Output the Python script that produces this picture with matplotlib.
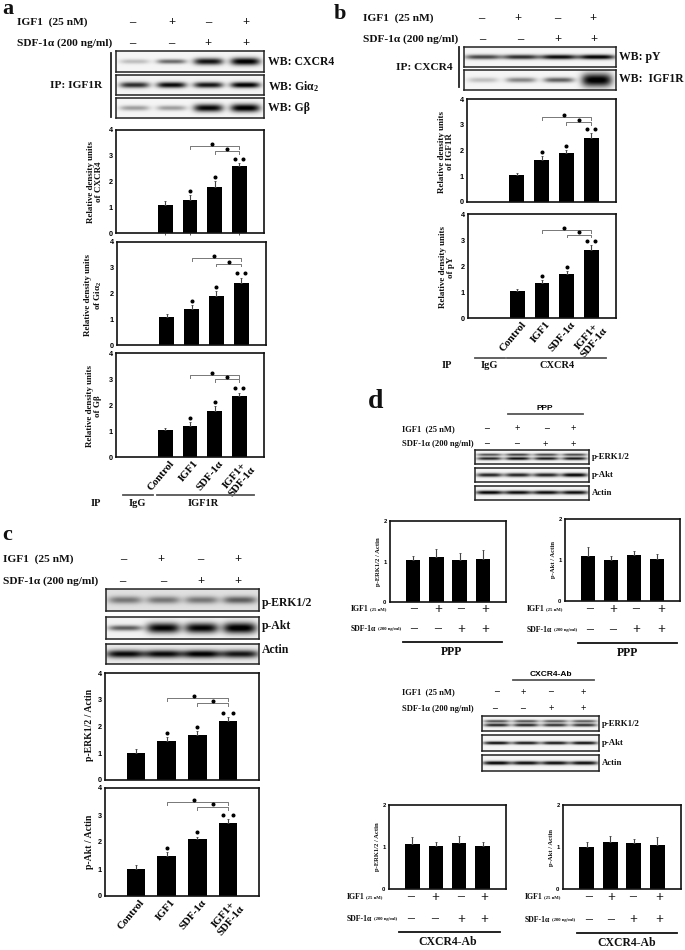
import matplotlib

matplotlib.use("Agg")
import matplotlib.pyplot as plt
from matplotlib.transforms import ScaledTranslation
import numpy as np

W, H = 685, 950
SERIF = "Liberation Serif"
SANS = "Liberation Sans"

plt.rcParams["font.family"] = [SERIF, "DejaVu Sans"]
plt.rcParams["font.weight"] = "bold"
plt.rcParams["mathtext.fontset"] = "custom"
plt.rcParams["mathtext.rm"] = "Liberation Serif:bold"
plt.rcParams["mathtext.default"] = "rm"

# bar values
a_cxcr4 = [1.1, 1.3, 1.8, 2.6]
a_cxcr4_err = [0.13, 0.17, 0.23, 0.13]
a_gia = [1.1, 1.4, 1.9, 2.4]
a_gia_err = [0.1, 0.15, 0.2, 0.22]
a_gb = [1.03, 1.2, 1.77, 2.35]
a_gb_err = [0.1, 0.15, 0.2, 0.13]
b_igf1r = [1.03, 1.65, 1.9, 2.48]
b_igf1r_err = [0.1, 0.12, 0.12, 0.2]
b_py = [1.03, 1.35, 1.7, 2.6]
b_py_err = [0.08, 0.12, 0.1, 0.2]
c_erk = [1.0, 1.45, 1.67, 2.2]
c_erk_err = [0.15, 0.15, 0.15, 0.15]
c_akt = [1.0, 1.5, 2.1, 2.7]
c_akt_err = [0.13, 0.12, 0.1, 0.15]
ppp_erk = [1.03, 1.11, 1.03, 1.07]
ppp_erk_err = [0.11, 0.2, 0.17, 0.21]
ppp_akt = [1.1, 1.0, 1.13, 1.03]
ppp_akt_err = [0.22, 0.1, 0.1, 0.11]
ab_erk = [1.06, 1.03, 1.1, 1.02]
ab_erk_err = [0.18, 0.1, 0.16, 0.11]
ab_akt = [1.01, 1.12, 1.09, 1.05]
ab_akt_err = [0.1, 0.15, 0.09, 0.2]

igf1_signs = ["–", "+", "–", "+"]
sdf_signs = ["–", "–", "+", "+"]
treatments = ["Control", "IGF1", "SDF-1α", "IGF1+\nSDF-1α"]

# blot band strengths per lane (0 = nothing, 1 = black)
bl_a_cxcr4 = [0.22, 0.55, 0.9, 1.0]
bl_a_gia = [0.8, 0.95, 0.9, 1.0]
bl_a_gb = [0.35, 0.35, 0.95, 1.0]
bl_b_py = [0.7, 0.8, 0.95, 1.0]
bl_b_igf1r = [0.22, 0.45, 0.6, 1.0]
bl_c_erk = [0.42, 0.42, 0.42, 0.52]
bl_c_akt = [0.6, 0.95, 0.95, 1.0]
bl_c_actin = [0.9, 0.9, 0.95, 0.85]
bl_p_erk = [0.85, 0.95, 0.9, 0.9]
bl_p_akt = [0.85, 0.85, 0.85, 1.0]
bl_p_actin = [1.0, 0.95, 0.95, 0.95]
bl_x_erk = [0.85, 0.85, 0.8, 0.8]
bl_x_akt = [0.95, 0.9, 0.9, 0.95]
bl_x_actin = [1.0, 0.95, 0.95, 0.95]

fig = plt.figure(figsize=(W / 100, H / 100), dpi=100, facecolor="white")


def px_axes(left, top, right, bottom):
    return fig.add_axes([left / W, 1 - bottom / H, (right - left) / W, (bottom - top) / H])


def txt(x, y, s, size=8, ha="left", va="center", **kw):
    fig.text(x / W, 1 - y / H, s, fontsize=size, ha=ha, va=va, fontweight="bold", color="#111111", **kw)


def line(x0, x1, y, color="#222222", lw=1.3):
    fig.add_artist(plt.Line2D([x0 / W, x1 / W], [1 - y / H, 1 - y / H], color=color, lw=lw))


def vline(x, y0, y1, color="#222222", lw=1.3):
    fig.add_artist(plt.Line2D([x / W, x / W], [1 - y0 / H, 1 - y1 / H], color=color, lw=lw))


def blot(left, top, right, bottom, bands, thick=2.5, bg=0.04, double=False, halfw=0.1, grow=0.0):
    nx, ny = int(right - left) * 2, int(bottom - top) * 2
    xx, yy = np.meshgrid(np.linspace(0, 1, nx), np.linspace(0, bottom - top, ny))
    cy = (bottom - top) / 2
    img = np.full(xx.shape, bg)
    for i, s in enumerate(bands):
        cx = 0.125 + 0.25 * i
        t = thick * (1 + grow * max(s - 0.6, 0) / 0.4)
        prof = np.exp(-(((xx - cx) / halfw) ** 4))
        if double:
            vert = np.exp(-(((yy - cy + 2.4) / (thick * 0.6)) ** 2)) * 0.8 + np.exp(-(((yy - cy - 1.6) / (thick * 0.75)) ** 2))
        else:
            vert = np.exp(-(((yy - cy) / t) ** 2))
        img += s * prof * vert
    ax = px_axes(left, top, right, bottom)
    ax.imshow(1 - np.clip(img, 0, 1), cmap="gray", vmin=0, vmax=1, aspect="auto", interpolation="bilinear")
    ax.set_xticks([])
    ax.set_yticks([])
    for sp in ax.spines.values():
        sp.set_linewidth(1.1)
        sp.set_color("#222222")
    return ax


def bars(box, vals, errs, xlim, start, ymax=4, ticks=None, bar_w=0.6, labels=None, tsize=5.2, lab_size=7.8, bracket=None, stubs=False):
    ax = px_axes(*box)
    pos = np.arange(len(vals)) + start
    ax.bar(pos, vals, width=bar_w, color="black")
    ax.errorbar(pos, vals, yerr=[np.zeros(len(errs)), errs], fmt="none", ecolor="#444444", elinewidth=0.8, capsize=1, capthick=0.6)
    ax.set_xlim(0, xlim)
    ax.set_ylim(0, ymax)
    ax.set_yticks(ticks if ticks is not None else range(ymax + 1))
    ax.tick_params(axis="y", length=0, pad=2.5, labelsize=tsize)
    for t in ax.get_yticklabels():
        t.set_fontfamily(SANS)
    if labels is not None:
        ax.set_xticks(pos)
        ax.set_xticklabels(labels, rotation=50, ha="right", va="top", rotation_mode="anchor", fontsize=lab_size, linespacing=1.0, multialignment="center")
        ax.tick_params(axis="x", length=0, pad=1.5)
        shift = ScaledTranslation(3.5 / 100, 0, fig.dpi_scale_trans)
        for t in ax.get_xticklabels():
            t.set_transform(t.get_transform() + shift)
    elif stubs:
        # little leftovers of cropped labels under the top panels
        ax.set_xticks(pos[[0, 1, 3]])
        ax.set_xticklabels([])
        ax.tick_params(axis="x", length=1.5, width=0.7, color="#555555", pad=1)
    else:
        ax.set_xticks([])
    for sp in ax.spines.values():
        sp.set_linewidth(1.2)
        sp.set_color("#111111")
    if bracket is not None:
        hi, lo = bracket
        drop = ymax * 0.025
        ax.plot([pos[1], pos[1], pos[3], pos[3]], [hi - drop, hi, hi, hi - drop], color="#777777", lw=0.7)
        ax.plot([pos[2], pos[2], pos[3], pos[3]], [lo - drop, lo, lo, lo - drop], color="#777777", lw=0.7)
        star = dict(color="black", marker="o", ms=1.9, ls="none")
        ax.plot([(pos[1] + pos[3]) / 2 - 0.1], [hi + 0.09], **star)
        ax.plot([(pos[2] + pos[3]) / 2], [lo + 0.09], **star)
        for i in (1, 2):
            ax.plot([pos[i]], [vals[i] + errs[i] + 0.16], **star)
        ax.plot([pos[3] - 0.16, pos[3] + 0.16], [vals[3] + errs[3] + 0.16] * 2, **star)
    return ax


def sign_row(xs, y, signs, size=9):
    for x, s in zip(xs, signs):
        txt(x, y, s, size=size, ha="center")


def small_treat(x, y1, y2, off1, off2, xs1, xs2):
    txt(x, y1, "IGF1", size=5.6)
    txt(x + off1, y1, "(25 nM)", size=3.4)
    txt(x, y2, "SDF-1α", size=5.6)
    txt(x + off2, y2, "(200 ng/ml)", size=3.4)
    sign_row(xs1, y1, igf1_signs, size=10)
    sign_row(xs2, y2, sdf_signs, size=10)


# ---- panel a
txt(2, 14, "a", size=16, va="baseline")
txt(17, 22, "IGF1  (25 nM)", size=8.2)
txt(17, 43, "SDF-1α (200 ng/ml)", size=8.2)
sign_row([132, 172, 208, 246], 22, igf1_signs)
sign_row([132, 171, 208, 246], 43, sdf_signs)
blot(116, 51, 264, 72, bl_a_cxcr4, thick=2.4, grow=0.6)
blot(116, 75, 264, 95, bl_a_gia, thick=3.0)
blot(116, 98, 264, 118, bl_a_gb, thick=2.6, grow=0.6)
vline(111, 53, 117)
txt(76, 85, "IP: IGF1R", size=8.2, ha="center")
txt(268, 62, "WB: CXCR4", size=8.5)
txt(268, 87, "WB: Giα$_2$", size=8.5)
txt(268, 108, "WB: Gβ", size=8.5)

bars((116, 130, 264, 233), a_cxcr4, a_cxcr4_err, 6, 2, bracket=(3.38, 3.18), stubs=True)
bars((117, 242, 266, 345), a_gia, a_gia_err, 6, 2, bracket=(3.38, 3.15))
bars((116, 353, 264, 457), a_gb, a_gb_err, 6, 2, labels=treatments, bracket=(3.15, 3.0))
txt(95, 182, "Relative density units\nof CXCR4", size=6.5, ha="center", rotation=90, linespacing=1.1)
txt(94, 295, "Relative density units\nof Giα$_2$", size=6.5, ha="center", rotation=90, linespacing=1.1)
txt(94, 406, "Relative density units\nof Gβ", size=6.5, ha="center", rotation=90, linespacing=1.1)
line(123, 153, 495, color="#555555")
line(157, 254, 495, color="#555555")
txt(96, 503, "IP", size=7.5, ha="center")
txt(137, 503, "IgG", size=7.5, ha="center")
txt(203, 503, "IGF1R", size=7.5, ha="center")

# ---- panel b
txt(334, 14, "b", size=16)
txt(363, 18, "IGF1  (25 nM)", size=8.2)
txt(363, 39, "SDF-1α (200 ng/ml)", size=8.2)
sign_row([481, 518, 557, 593], 18, igf1_signs)
sign_row([482, 520, 558, 594], 39, sdf_signs)
blot(464, 47, 616, 67, bl_b_py, thick=2.4, halfw=0.12)
blot(464, 70, 616, 90, bl_b_igf1r, thick=2.6, grow=1.6)
vline(459, 47, 87)
txt(424, 68, "IP: CXCR4", size=8.2, ha="center")
txt(619, 57, "WB: pY", size=8.5)
txt(619, 79, "WB:  IGF1R", size=8.5)
bars((467, 99, 616, 202), b_igf1r, b_igf1r_err, 6, 2, bracket=(3.3, 3.1))
bars((468, 214, 616, 318), b_py, b_py_err, 6, 2, labels=treatments, bracket=(3.38, 3.2))
txt(446, 152, "Relative density units\nof IGF1R", size=6.5, ha="center", rotation=90, linespacing=1.1)
txt(447, 267, "Relative density units\nof pY", size=6.5, ha="center", rotation=90, linespacing=1.1)
line(475, 505, 358, color="#555555")
line(507, 606, 358, color="#555555")
txt(447, 366, "IP", size=7.5, ha="center")
txt(489, 366, "IgG", size=7.5, ha="center")
txt(557, 366, "CXCR4", size=7.5, ha="center")

# ---- panel c
txt(2, 535, "c", size=16)
txt(3, 559, "IGF1  (25 nM)", size=8.2)
txt(3, 581, "SDF-1α (200 ng/ml)", size=8.2)
sign_row([123, 161, 200, 238], 559, igf1_signs)
sign_row([122, 163, 201, 238], 581, sdf_signs)
blot(106, 589, 259, 611, bl_c_erk, thick=3.8, bg=0.12, halfw=0.11)
blot(106, 617, 259, 639, bl_c_akt, thick=2.8, bg=0.05, grow=1.0, halfw=0.11)
blot(106, 644, 259, 664, bl_c_actin, thick=4.0, bg=0.08, halfw=0.125)
txt(262, 603, "p-ERK1/2", size=8.5)
txt(262, 626, "p-Akt", size=8.5)
txt(262, 650, "Actin", size=8.5)
bars((105, 673, 259, 780), c_erk, c_erk_err, 5, 1, bracket=(3.06, 2.88))
bars((105, 788, 259, 896), c_akt, c_akt_err, 5, 1, labels=treatments, bracket=(3.48, 3.3))
txt(90, 725, "p-ERK1/2 / Actin", size=7, ha="center", rotation=90)
txt(90, 842, "p-Akt / Actin", size=7, ha="center", rotation=90)

# ---- panel d, PPP
txt(368, 401, "d", size=20)
fig.text(545 / W, 1 - 408 / H, "PPP", fontsize=6, ha="center", va="center", family=SANS, fontweight="bold")
line(508, 583, 414, color="#555555")
txt(402, 429, "IGF1  (25 nM)", size=6.1)
txt(402, 444, "SDF-1α (200 ng/ml)", size=6.1)
sign_row([487, 517, 546, 573], 429, igf1_signs, size=7)
sign_row([487, 517, 545, 573], 444, sdf_signs, size=7)
blot(475, 450, 589, 464, bl_p_erk, thick=2.1, double=True, halfw=0.11)
blot(475, 468, 589, 482, bl_p_akt, thick=2.0, halfw=0.115)
blot(475, 486, 589, 500, bl_p_actin, thick=1.8, halfw=0.12)
txt(592, 457, "p-ERK1/2", size=6.3)
txt(592, 475, "p-Akt", size=6.3)
txt(592, 493, "Actin", size=6.3)

bars((390, 521, 506, 602), ppp_erk, ppp_erk_err, 5, 1, ymax=2, bar_w=0.62, tsize=4.2)
bars((565, 519, 680, 601), ppp_akt, ppp_akt_err, 5, 1, ymax=2, bar_w=0.62, tsize=4.2)
txt(379, 562, "p-ERK1/2 / Actin", size=4.8, ha="center", rotation=90)
txt(553, 560, "p-Akt / Actin", size=4.8, ha="center", rotation=90)
small_treat(351, 609, 629, 19, 27, [414, 438, 461, 485], [414, 438, 461, 485])
small_treat(527, 609, 630, 19, 27, [590, 613, 636, 661], [590, 613, 636, 661])
line(403, 502, 642, color="#111111")
line(578, 677, 643, color="#111111")
txt(452, 652, "PPP", size=8.5, ha="center")
txt(628, 653, "PPP", size=8.5, ha="center")

# ---- panel d, CXCR4-Ab
fig.text(551 / W, 1 - 674 / H, "CXCR4-Ab", fontsize=6, ha="center", va="center", family=SANS, fontweight="bold")
line(513, 594, 680, color="#555555")
txt(402, 692, "IGF1  (25 nM)", size=6.1)
txt(402, 709, "SDF-1α (200 ng/ml)", size=6.1)
sign_row([496, 523, 551, 583], 692, igf1_signs, size=7)
sign_row([495, 523, 551, 583], 709, sdf_signs, size=7)
blot(482, 716, 599, 731, bl_x_erk, thick=2.2, double=True, halfw=0.11)
blot(482, 735, 599, 751, bl_x_akt, thick=1.6, halfw=0.115)
blot(482, 755, 599, 771, bl_x_actin, thick=1.9, halfw=0.12)
txt(602, 724, "p-ERK1/2", size=6.3)
txt(602, 743, "p-Akt", size=6.3)
txt(602, 763, "Actin", size=6.3)

bars((389, 805, 506, 889), ab_erk, ab_erk_err, 5, 1, ymax=2, bar_w=0.62, tsize=4.2)
bars((563, 805, 681, 889), ab_akt, ab_akt_err, 5, 1, ymax=2, bar_w=0.62, tsize=4.2)
txt(377, 847, "p-ERK1/2 / Actin", size=4.8, ha="center", rotation=90)
txt(552, 847, "p-Akt / Actin", size=4.8, ha="center", rotation=90)
small_treat(347, 897, 919, 19, 27, [411, 435, 461, 484], [411, 435, 461, 484])
small_treat(525, 897, 920, 19, 27, [589, 611, 633, 659], [589, 611, 633, 659])
line(399, 500, 932, color="#111111")
line(577, 677, 933, color="#111111")
txt(448, 942, "CXCR4-Ab", size=8.5, ha="center")
txt(627, 943, "CXCR4-Ab", size=8.5, ha="center")

fig.savefig("out.png", dpi=100, facecolor="white")
